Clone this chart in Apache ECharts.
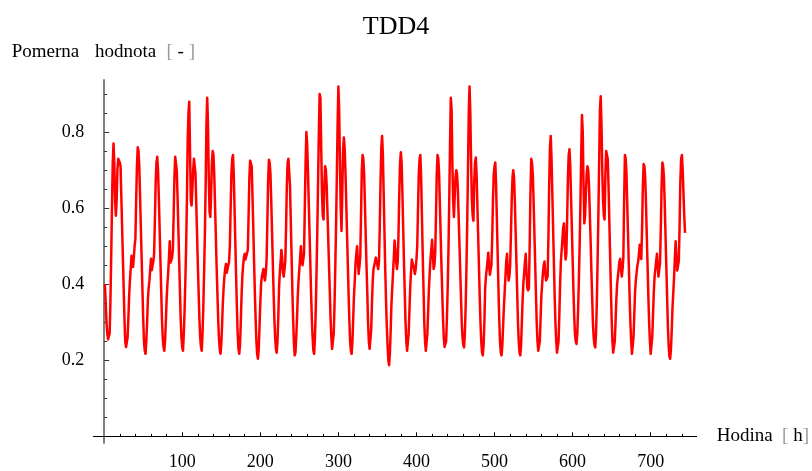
<!DOCTYPE html>
<html>
<head>
<meta charset="utf-8">
<script src="https://cdn.jsdelivr.net/npm/echarts@6/dist/echarts.min.js"></script>
<style>html,body{margin:0;padding:0;background:#fff}#c{width:812px;height:471px}</style>
</head>
<body>
<div id="c"></div>
<script>
// Hourly relative values, one array per day (24 hours each)
const d01 = [0.40,0.35,0.30,0.27,0.255,0.25,0.27,0.35,0.47,0.60,0.72,0.77,0.72,0.62,0.58,0.62,0.70,0.73,0.73,0.72,0.71,0.63,0.55,0.47];
const d02 = [0.39,0.31,0.25,0.235,0.23,0.26,0.31,0.37,0.41,0.44,0.475,0.46,0.445,0.47,0.50,0.52,0.62,0.71,0.76,0.75,0.71,0.63,0.55,0.47];
const d03 = [0.39,0.31,0.25,0.225,0.217,0.25,0.30,0.36,0.39,0.41,0.44,0.467,0.437,0.45,0.46,0.48,0.57,0.67,0.72,0.735,0.70,0.63,0.55,0.47];
const d04 = [0.39,0.31,0.26,0.235,0.225,0.25,0.30,0.36,0.40,0.43,0.47,0.513,0.457,0.46,0.47,0.49,0.58,0.68,0.735,0.73,0.70,0.63,0.55,0.47];
const d05 = [0.39,0.31,0.26,0.235,0.225,0.27,0.33,0.41,0.50,0.62,0.78,0.85,0.88,0.75,0.62,0.607,0.65,0.70,0.73,0.73,0.69,0.61,0.53,0.45];
const d06 = [0.38,0.31,0.26,0.235,0.225,0.27,0.34,0.43,0.53,0.66,0.82,0.89,0.82,0.68,0.59,0.577,0.64,0.72,0.75,0.74,0.69,0.61,0.53,0.45];
const d07 = [0.38,0.31,0.26,0.23,0.217,0.24,0.29,0.35,0.39,0.42,0.44,0.453,0.43,0.44,0.45,0.46,0.50,0.60,0.69,0.73,0.74,0.69,0.60,0.51];
const d08 = [0.42,0.34,0.27,0.23,0.217,0.24,0.30,0.37,0.42,0.45,0.47,0.48,0.465,0.468,0.47,0.49,0.58,0.68,0.725,0.73,0.71,0.63,0.55,0.46];
const d09 = [0.38,0.31,0.25,0.215,0.204,0.23,0.29,0.35,0.40,0.42,0.43,0.44,0.42,0.41,0.43,0.46,0.56,0.67,0.727,0.72,0.69,0.62,0.54,0.46];
const d10 = [0.38,0.31,0.26,0.23,0.22,0.25,0.31,0.39,0.43,0.46,0.49,0.47,0.43,0.42,0.44,0.46,0.55,0.66,0.72,0.73,0.73,0.66,0.57,0.48];
const d11 = [0.39,0.31,0.25,0.213,0.22,0.26,0.31,0.37,0.41,0.44,0.47,0.50,0.47,0.45,0.45,0.48,0.60,0.72,0.80,0.77,0.70,0.62,0.54,0.46];
const d12 = [0.38,0.31,0.26,0.225,0.217,0.26,0.33,0.43,0.54,0.67,0.80,0.90,0.89,0.76,0.64,0.58,0.57,0.66,0.71,0.70,0.66,0.59,0.52,0.45];
const d13 = [0.38,0.31,0.26,0.23,0.225,0.27,0.34,0.44,0.55,0.68,0.82,0.92,0.86,0.72,0.60,0.54,0.64,0.75,0.786,0.76,0.70,0.62,0.54,0.46];
const d14 = [0.38,0.31,0.25,0.225,0.217,0.25,0.31,0.37,0.41,0.457,0.48,0.50,0.46,0.427,0.43,0.47,0.58,0.70,0.74,0.73,0.69,0.61,0.53,0.45];
const d15 = [0.38,0.30,0.25,0.23,0.235,0.28,0.35,0.41,0.44,0.45,0.46,0.47,0.46,0.45,0.44,0.46,0.55,0.67,0.76,0.79,0.74,0.64,0.54,0.44];
const d16 = [0.36,0.29,0.24,0.20,0.187,0.22,0.28,0.35,0.39,0.43,0.47,0.515,0.49,0.46,0.44,0.46,0.53,0.64,0.72,0.747,0.72,0.64,0.55,0.46];
const d17 = [0.38,0.30,0.25,0.225,0.23,0.27,0.33,0.39,0.43,0.465,0.46,0.465,0.44,0.427,0.44,0.465,0.50,0.60,0.69,0.73,0.74,0.68,0.58,0.48];
const d18 = [0.39,0.30,0.25,0.225,0.23,0.27,0.33,0.39,0.43,0.466,0.49,0.517,0.48,0.44,0.45,0.48,0.58,0.69,0.74,0.73,0.69,0.61,0.53,0.45];
const d19 = [0.38,0.31,0.26,0.235,0.23,0.25,0.31,0.39,0.49,0.62,0.77,0.89,0.86,0.72,0.62,0.577,0.63,0.68,0.70,0.69,0.65,0.58,0.51,0.44];
const d20 = [0.37,0.30,0.26,0.24,0.234,0.27,0.34,0.44,0.56,0.70,0.85,0.92,0.85,0.72,0.62,0.58,0.567,0.67,0.72,0.733,0.69,0.61,0.53,0.45];
const d21 = [0.37,0.30,0.25,0.22,0.213,0.24,0.30,0.39,0.42,0.44,0.46,0.483,0.45,0.425,0.43,0.45,0.52,0.62,0.69,0.71,0.72,0.66,0.57,0.48];
const d22 = [0.39,0.31,0.25,0.22,0.213,0.24,0.29,0.34,0.38,0.42,0.46,0.48,0.44,0.41,0.42,0.45,0.53,0.62,0.68,0.70,0.68,0.62,0.54,0.46];
const d23 = [0.38,0.30,0.25,0.22,0.213,0.24,0.30,0.36,0.405,0.43,0.46,0.48,0.43,0.39,0.384,0.39,0.50,0.64,0.73,0.72,0.69,0.62,0.54,0.46];
const d24 = [0.38,0.30,0.25,0.225,0.22,0.25,0.31,0.37,0.40,0.43,0.45,0.46,0.43,0.41,0.405,0.42,0.52,0.66,0.76,0.79,0.73,0.64,0.55,0.46];
const d25 = [0.37,0.30,0.25,0.22,0.217,0.25,0.32,0.40,0.46,0.49,0.52,0.55,0.56,0.50,0.465,0.48,0.57,0.68,0.74,0.755,0.71,0.63,0.55,0.47];
const d26 = [0.39,0.32,0.27,0.25,0.243,0.27,0.33,0.41,0.50,0.61,0.74,0.845,0.80,0.66,0.56,0.58,0.64,0.69,0.71,0.70,0.66,0.59,0.52,0.44];
const d27 = [0.37,0.30,0.26,0.24,0.234,0.27,0.35,0.46,0.58,0.72,0.86,0.894,0.82,0.70,0.62,0.58,0.57,0.69,0.75,0.74,0.73,0.66,0.57,0.48];
const d28 = [0.39,0.31,0.25,0.22,0.217,0.25,0.30,0.36,0.40,0.42,0.44,0.46,0.467,0.44,0.42,0.44,0.47,0.62,0.74,0.73,0.69,0.61,0.53,0.45];
const d29 = [0.37,0.30,0.25,0.217,0.22,0.26,0.32,0.38,0.41,0.43,0.45,0.46,0.48,0.504,0.48,0.466,0.55,0.66,0.716,0.71,0.68,0.61,0.53,0.45];
const d30 = [0.37,0.30,0.25,0.217,0.22,0.26,0.32,0.38,0.42,0.44,0.46,0.48,0.45,0.42,0.44,0.457,0.55,0.66,0.72,0.71,0.68,0.61,0.53,0.45];
const d31 = [0.37,0.29,0.24,0.21,0.204,0.23,0.28,0.34,0.38,0.42,0.47,0.513,0.47,0.436,0.44,0.46,0.55,0.67,0.73,0.74,0.70,0.64,0.58,0.535];

// Tick labels / tick positions
const xMajorTicks = [100, 200, 300, 400, 500, 600, 700];
const xMinorTicks = [20,40,60,80,120,140,160,180,220,240,260,280,320,340,360,380,420,440,460,480,520,540,560,580,620,640,660,680,720,740];
const yMajorTicks = [0.2, 0.4, 0.6, 0.8];
const yMinorTicks = [0.05,0.1,0.15,0.25,0.3,0.35,0.45,0.5,0.55,0.65,0.7,0.75,0.85,0.9];

const titleText = 'TDD4';
const xName = 'Hodina';
const xUnit = 'h';

const days = [d01,d02,d03,d04,d05,d06,d07,d08,d09,d10,d11,d12,d13,d14,d15,d16,d17,d18,d19,d20,d21,d22,d23,d24,d25,d26,d27,d28,d29,d30,d31];
const hourly = [].concat(...days);
const seriesData = hourly.map((v, i) => [i + 1, v]);

const FONT = "'Liberation Serif', 'Times New Roman', serif";
const X_MIN = -13.9, X_MAX = 758.9, Y_MIN = -0.0175, Y_MAX = 0.937;

const chart = echarts.init(document.getElementById('c'), null, {renderer: 'canvas'});
chart.setOption({
  animation: false,
  backgroundColor: '#fff',
  grid: {left: 93.3, right: 112.7, top: 80, bottom: 20, containLabel: false},
  xAxis: [
    {
      type: 'value', min: X_MIN, max: X_MAX, position: 'bottom',
      axisLine: {show: true, onZero: true, lineStyle: {color: '#000', width: 1}},
      axisTick: {show: true, inside: true, length: 4, customValues: xMajorTicks, lineStyle: {color: '#000', width: 1}},
      axisLabel: {show: true, customValues: xMajorTicks, margin: 10, color: '#000', fontFamily: FONT, fontSize: 18},
      splitLine: {show: false},
      name: xName + '  {b|[} ' + xUnit + '{b|]}',
      nameLocation: 'end', nameGap: 20,
      nameTextStyle: {color: '#000', fontFamily: FONT, fontSize: 19,
        rich: {b: {color: '#999', fontFamily: FONT, fontSize: 19}}}
    },
    {
      type: 'value', min: X_MIN, max: X_MAX, position: 'bottom',
      axisLine: {show: false, onZero: true},
      axisTick: {show: true, inside: true, length: 2.5, customValues: xMinorTicks, lineStyle: {color: '#000', width: 1}},
      axisLabel: {show: false},
      splitLine: {show: false}
    }
  ],
  yAxis: [
    {
      type: 'value', min: Y_MIN, max: Y_MAX, position: 'left',
      axisLine: {show: true, onZero: true, lineStyle: {color: '#808080', width: 2}},
      axisTick: {show: true, inside: true, length: 5, customValues: yMajorTicks, lineStyle: {color: '#333', width: 1}},
      axisLabel: {show: true, customValues: yMajorTicks, margin: 9, color: '#000', fontFamily: FONT, fontSize: 18},
      splitLine: {show: false}
    },
    {
      type: 'value', min: Y_MIN, max: Y_MAX, position: 'left',
      axisLine: {show: false, onZero: true},
      axisTick: {show: true, inside: true, length: 3, customValues: yMinorTicks, lineStyle: {color: '#333', width: 1}},
      axisLabel: {show: false},
      splitLine: {show: false}
    }
  ],
  graphic: [
    {type: 'text', x: 396, y: 27, style: {text: titleText, align: 'center', verticalAlign: 'middle', fill: '#000', font: "26px 'Liberation Serif', serif"}},
    {type: 'text', x: 11.7, y: 52, style: {text: 'Pomerna', align: 'left', verticalAlign: 'middle', fill: '#000', font: "19px 'Liberation Serif', serif"}},
    {type: 'text', x: 95, y: 52, style: {text: 'hodnota', align: 'left', verticalAlign: 'middle', fill: '#000', font: "19px 'Liberation Serif', serif"}},
    {type: 'text', x: 166.5, y: 52, style: {text: '{b|[} - {b|]}', align: 'left', verticalAlign: 'middle', fill: '#000', font: "19px 'Liberation Serif', serif",
      rich: {b: {fill: '#999', font: "19px 'Liberation Serif', serif"}}}}
  ],
  series: [{
    type: 'line', xAxisIndex: 0, yAxisIndex: 0,
    data: seriesData, showSymbol: false, symbol: 'none', silent: true,
    lineStyle: {color: '#ff0000', width: 2.5, join: 'round'},
    itemStyle: {color: '#ff0000'}
  }]
});
</script>
</body>
</html>
